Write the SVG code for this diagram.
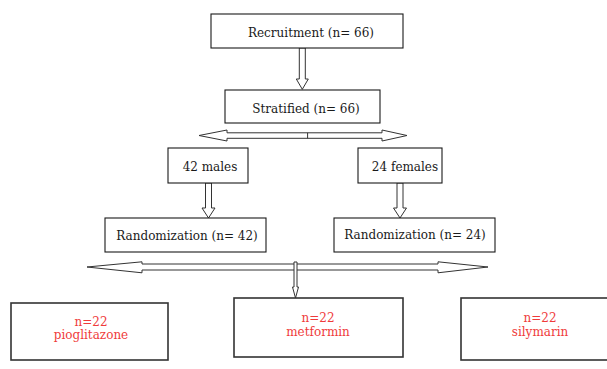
<svg xmlns="http://www.w3.org/2000/svg" width="607" height="369" viewBox="0 0 607 369">
<style>
.box{fill:#fff;stroke:#1a1a1a;stroke-width:1.1}
.box2{fill:#fff;stroke:#333;stroke-width:1.6}
.arr{fill:#fff;stroke:#333;stroke-width:1}
.t{font-family:"DejaVu Serif","Liberation Serif",serif;font-size:12px;fill:#1a1a1a;text-anchor:middle}
.r{font-family:"DejaVu Serif","Liberation Serif",serif;font-size:12px;fill:#ef3b3b;text-anchor:middle}
</style>
<rect width="607" height="369" fill="#fff"/>
<g id="connectors">
<polygon class="arr" points="299.3,48 305.3,48 305.3,79 308.3,79 302.3,89.3 296.3,79 299.3,79"/>
<polygon class="arr" points="199,135.5 227,130 227,132.8 382,132.8 382,130 407,135.5 382,141 382,138.3 227,138.3 227,141"/>
<line x1="307.6" y1="132.8" x2="307.6" y2="138.3" stroke="#333" stroke-width="1"/>
<polygon class="arr" points="205.5,183 211.5,183 211.5,208 215,208 208.5,218 202,208 205.5,208"/>
<polygon class="arr" points="397,183 403,183 403,208 406.5,208 400,218 393.5,208 397,208"/>
<polygon class="arr" points="87,267 142,261.8 142,264 438,264 438,261.8 488,267 438,272.8 438,270 142,270 142,272.8"/>
<polygon class="arr" points="294,262 297,262 297,287 298.5,287 295.5,298 292.5,287 294,287"/>
</g>
<g id="recruitment">
<rect class="box" x="211" y="14" width="192" height="34"/>
<text class="t" x="311" y="37">Recruitment (n= 66)</text>
</g>
<g id="stratified">
<rect class="box" x="225" y="90" width="155" height="33"/>
<text class="t" x="306" y="113">Stratified (n= 66)</text>
</g>
<g id="males">
<rect class="box" x="168" y="148" width="80" height="35"/>
<text class="t" x="210" y="171">42 males</text>
</g>
<g id="females">
<rect class="box" x="358" y="148" width="84" height="35"/>
<text class="t" x="405" y="171">24 females</text>
</g>
<g id="rand42">
<rect class="box" x="105" y="218" width="161" height="34"/>
<text class="t" x="187" y="240">Randomization (n= 42)</text>
</g>
<g id="rand24">
<rect class="box" x="334" y="218" width="161" height="34"/>
<text class="t" x="415" y="239">Randomization (n= 24)</text>
</g>
<g id="pioglitazone">
<rect class="box2" x="11" y="303" width="157" height="57"/>
<text class="r" x="91" y="326">n=22</text>
<text class="r" x="91" y="339">pioglitazone</text>
</g>
<g id="metformin">
<rect class="box2" x="234" y="298" width="169" height="59"/>
<text class="r" x="318" y="322">n=22</text>
<text class="r" x="318" y="336">metformin</text>
</g>
<g id="silymarin">
<rect class="box2" x="461" y="298" width="160" height="62"/>
<text class="r" x="540" y="322">n=22</text>
<text class="r" x="540" y="336">silymarin</text>
</g>
</svg>
